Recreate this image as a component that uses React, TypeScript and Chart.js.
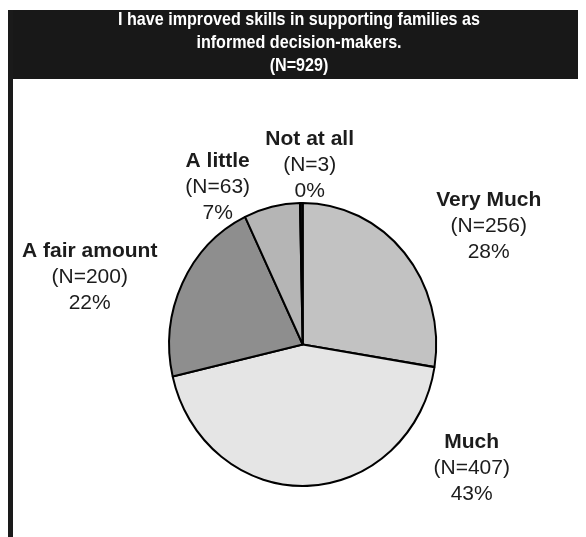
import { useEffect, useRef } from "react";
import { Chart, registerables } from "chart.js";

Chart.register(...registerables);

// Survey responses, clockwise from 12 o'clock
const categories = ["Very Much", "Much", "A fair amount", "A little", "Not at all"];
const counts = [256, 407, 200, 63, 3];
const percentLabels = [28, 43, 22, 7, 0];
const titleLines = [
  "I have improved skills in supporting families as",
  "informed decision-makers.",
  "(N=929)",
];

// Styling
const sliceColors = ["#c2c2c2", "#e5e5e5", "#8e8e8e", "#b5b5b5", "#111111"];
const PIE_RADIUS = 133.5;
const PIE_Y_STRETCH = 1.06;
const TITLE_CENTER_X = 291;
const TITLE_BASELINES = [17, 40, 63];
const TITLE_LINE1_WIDTH = 362;
const LABEL_FONT_SIZE = 21;
const LABEL_LINE_GAP = 26;
// Offset of each label block (centre of first line) from the pie centre
const LABEL_OFFSETS: [number, number][] = [
  [186, -144],
  [169, 98],
  [-213, -93],
  [-85, -183],
  [7, -205],
];

const framePlugin = {
  id: "frame",
  beforeDraw(chart: Chart) {
    const { ctx, width, height } = chart;
    ctx.save();
    ctx.fillStyle = "#ffffff";
    ctx.fillRect(0, 0, width, height);
    ctx.fillStyle = "#181818";
    ctx.fillRect(0, 2, width, 69);
    ctx.restore();
  },
  afterDraw(chart: Chart) {
    const { ctx, width, height } = chart;
    ctx.save();
    // borders
    ctx.fillStyle = "#1a1a1a";
    ctx.fillRect(0, 2, 5, height - 2);
    ctx.fillStyle = "#333333";
    ctx.fillRect(width - 1, 2, 1, height - 2);

    // title, condensed to its line width
    ctx.fillStyle = "#ffffff";
    ctx.font = "bold 19px 'Liberation Sans Narrow', 'Arial Narrow', 'Liberation Sans', Arial, sans-serif";
    ctx.textAlign = "center";
    ctx.textBaseline = "alphabetic";
    const sx = TITLE_LINE1_WIDTH / ctx.measureText(titleLines[0]).width;
    titleLines.forEach((line, i) => {
      ctx.save();
      ctx.translate(TITLE_CENTER_X, TITLE_BASELINES[i]);
      ctx.scale(sx, 1);
      ctx.fillText(line, 0, 0);
      ctx.restore();
    });

    // slice labels
    const meta = chart.getDatasetMeta(0);
    const arc0 = meta.data[0] as any;
    const cx = arc0.x;
    const cy = arc0.y;
    ctx.fillStyle = "#1c1c1c";
    ctx.textBaseline = "middle";
    categories.forEach((name, i) => {
      const [dx, dy] = LABEL_OFFSETS[i];
      const x = cx + dx;
      const y = cy + dy;
      ctx.font = `bold ${LABEL_FONT_SIZE}px 'Liberation Sans', Arial, sans-serif`;
      ctx.fillText(name, x, y);
      ctx.font = `${LABEL_FONT_SIZE}px 'Liberation Sans', Arial, sans-serif`;
      ctx.fillText(`(N=${counts[i]})`, x, y + LABEL_LINE_GAP);
      ctx.fillText(`${percentLabels[i]}%`, x, y + 2 * LABEL_LINE_GAP);
    });
    ctx.restore();
  },
};

// Draw the pie slightly taller than wide
const stretchPlugin = {
  id: "stretch",
  beforeDatasetsDraw(chart: Chart) {
    const arc = chart.getDatasetMeta(0).data[0] as any;
    const ctx = chart.ctx;
    ctx.save();
    ctx.translate(arc.x, arc.y);
    ctx.scale(1, PIE_Y_STRETCH);
    ctx.translate(-arc.x, -arc.y);
  },
  afterDatasetsDraw(chart: Chart) {
    chart.ctx.restore();
  },
};

export default function App() {
  const canvasRef = useRef<HTMLCanvasElement | null>(null);

  useEffect(() => {
    if (!canvasRef.current) return;
    const chart = new Chart(canvasRef.current, {
      type: "pie",
      data: {
        labels: categories,
        datasets: [
          {
            data: counts,
            backgroundColor: sliceColors,
            borderColor: "#000000",
            borderWidth: 2,
            radius: PIE_RADIUS,
          },
        ],
      },
      options: {
        animation: false,
        responsive: true,
        maintainAspectRatio: false,
        events: [],
        layout: { padding: { left: 111.4, right: 100, top: 184, bottom: 40 } },
        plugins: {
          legend: { display: false },
          tooltip: { enabled: false },
          title: { display: false },
        },
      },
      plugins: [framePlugin, stretchPlugin],
    });
    return () => chart.destroy();
  }, []);

  return (
    <div style={{ width: 578, height: 529, position: "relative" }}>
      <canvas ref={canvasRef} />
    </div>
  );
}
